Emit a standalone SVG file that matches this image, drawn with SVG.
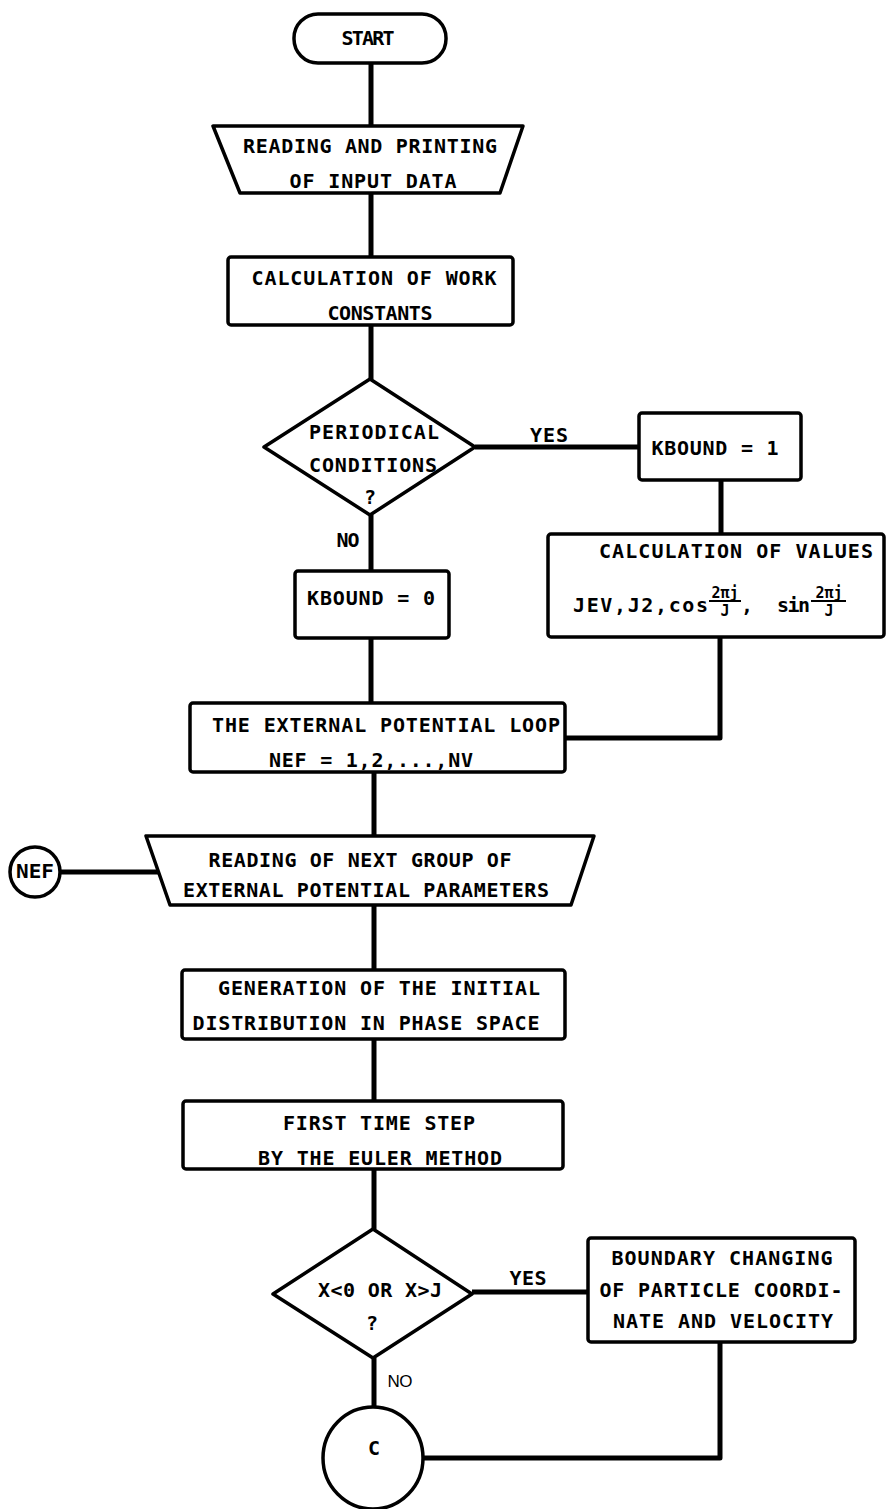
<svg xmlns="http://www.w3.org/2000/svg" width="886" height="1509" viewBox="0 0 886 1509">
<style>
.s{fill:#fff;stroke:#000;stroke-width:3.5;stroke-linejoin:round}
.c{fill:none;stroke:#000;stroke-width:5;stroke-linejoin:round}
.fb{stroke:#000;stroke-width:2}
text{font-family:"DejaVu Sans Mono","Liberation Mono",monospace;font-weight:bold;font-size:20px;fill:#000;text-anchor:middle}
.sm{font-size:15px}
.st{text-anchor:start}
.lab{font-family:"Liberation Sans",sans-serif;font-weight:normal;font-size:17px}
</style>
<rect width="886" height="1509" fill="#fff"/>
<g id="connectors">
<path class="c" d="M371 63V126M371 193V257M371 325V379M371 515V571M371 638V703"/>
<path class="c" d="M475 447H639M721 480V534M720 637V738H565"/>
<path class="c" d="M374 772V836M60 872H158M374 905V970M374 1039V1101M374 1169V1229"/>
<path class="c" d="M472 1292H588M720 1342V1458H423M374 1358V1407"/>
</g>
<g id="start">
<rect class="s" x="294" y="14" width="152" height="49" rx="24"/>
<text x="368" y="45" font-size="16" textLength="53" lengthAdjust="spacing">START</text>
</g>
<g id="input">
<polygon class="s" points="213,126 523,126 500,193 240,193"/>
<text x="370" y="153" textLength="254" lengthAdjust="spacing">READING AND PRINTING</text>
<text x="373" y="188" textLength="167" lengthAdjust="spacing">OF INPUT DATA</text>
</g>
<g id="workconst">
<rect class="s" x="228" y="257" width="285" height="68" rx="3"/>
<text x="374" y="285" textLength="245" lengthAdjust="spacing">CALCULATION OF WORK</text>
<text x="380" y="320" textLength="105" lengthAdjust="spacing">CONSTANTS</text>
</g>
<g id="periodical">
<polygon class="s" points="370,379 475,447 370,515 264,447"/>
<text x="374" y="439" textLength="130" lengthAdjust="spacing">PERIODICAL</text>
<text x="373" y="472" textLength="128" lengthAdjust="spacing">CONDITIONS</text>
<text x="370" y="504">?</text>
</g>
<text x="549" y="442" textLength="38" lengthAdjust="spacing">YES</text>
<text x="348" y="547" textLength="23" lengthAdjust="spacing">NO</text>
<g id="kbound1">
<rect class="s" x="639" y="413" width="162" height="67" rx="3"/>
<text x="715" y="455" textLength="127" lengthAdjust="spacing">KBOUND = 1</text>
</g>
<g id="calcvalues">
<rect class="s" x="548" y="534" width="336" height="103" rx="3"/>
<text x="736" y="558" textLength="274" lengthAdjust="spacing">CALCULATION OF VALUES</text>
<text class="st" x="573" y="612" textLength="135" lengthAdjust="spacing">JEV,J2,cos</text>
<text class="sm" x="725" y="598">2πj</text>
<line class="fb" x1="709" y1="601" x2="741" y2="601"/>
<text class="sm" x="725" y="616">J</text>
<text class="st" x="741" y="612">,</text>
<text class="st" x="777" y="612" textLength="33" lengthAdjust="spacing">sin</text>
<text class="sm" x="829" y="598">2πj</text>
<line class="fb" x1="811" y1="601" x2="846" y2="601"/>
<text class="sm" x="829" y="616">J</text>
</g>
<g id="kbound0">
<rect class="s" x="295" y="571" width="154" height="67" rx="3"/>
<text x="371" y="605" textLength="128" lengthAdjust="spacing">KBOUND = 0</text>
</g>
<g id="loop">
<rect class="s" x="190" y="703" width="375" height="69" rx="3"/>
<text x="386" y="732" textLength="348" lengthAdjust="spacing">THE EXTERNAL POTENTIAL LOOP</text>
<text x="371" y="767" textLength="204" lengthAdjust="spacing">NEF = 1,2,...,NV</text>
</g>
<g id="nef">
<circle class="s" cx="35" cy="872" r="25"/>
<text x="35" y="878" font-size="15" textLength="38" lengthAdjust="spacingAndGlyphs">NEF</text>
</g>
<g id="readnext">
<polygon class="s" points="146,836 594,836 571,905 170,905"/>
<text x="360" y="867" textLength="303" lengthAdjust="spacing">READING OF NEXT GROUP OF</text>
<text x="366" y="897" textLength="366" lengthAdjust="spacing">EXTERNAL POTENTIAL PARAMETERS</text>
</g>
<g id="generation">
<rect class="s" x="182" y="970" width="383" height="69" rx="3"/>
<text x="379" y="995" textLength="322" lengthAdjust="spacing">GENERATION OF THE INITIAL</text>
<text x="366" y="1030" textLength="347" lengthAdjust="spacing">DISTRIBUTION IN PHASE SPACE</text>
</g>
<g id="firststep">
<rect class="s" x="183" y="1101" width="380" height="68" rx="3"/>
<text x="379" y="1130" textLength="192" lengthAdjust="spacing">FIRST TIME STEP</text>
<text x="380" y="1165" textLength="244" lengthAdjust="spacing">BY THE EULER METHOD</text>
</g>
<g id="xtest">
<polygon class="s" points="373,1229 472,1294 373,1358 273,1294"/>
<text x="380" y="1297" textLength="124" lengthAdjust="spacing">X&lt;0 OR X&gt;J</text>
<text x="372" y="1330">?</text>
</g>
<text x="528" y="1285" textLength="37" lengthAdjust="spacing">YES</text>
<text class="lab" x="400" y="1387" textLength="25" lengthAdjust="spacing">NO</text>
<g id="boundary">
<rect class="s" x="588" y="1238" width="267" height="104" rx="3"/>
<text x="722" y="1265" textLength="221" lengthAdjust="spacing">BOUNDARY CHANGING</text>
<text x="721" y="1297" textLength="243" lengthAdjust="spacing">OF PARTICLE COORDI-</text>
<text x="723" y="1328" textLength="220" lengthAdjust="spacing">NATE AND VELOCITY</text>
</g>
<g id="connectorC">
<ellipse class="s" cx="373" cy="1458" rx="50" ry="51"/>
<text x="374" y="1455">C</text>
</g>
</svg>
